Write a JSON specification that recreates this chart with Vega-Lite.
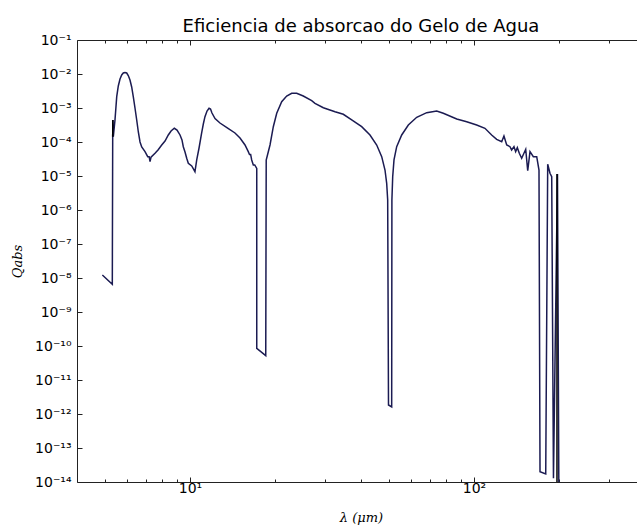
{
  "$schema": "https://vega.github.io/schema/vega-lite/v6.json",
  "autosize": {"type": "none"},
  "padding": {"left": 77, "top": 40, "right": 0, "bottom": 43},
  "width": 560,
  "height": 442,
  "background": "white",
  "config": {
    "view": {"stroke": null},
    "axis": {"grid": false, "domainColor": "#222", "tickColor": "#222", "labelColor": "black", "labelFont": "DejaVu Sans", "labelFontSize": 14, "titleColor": "black", "titleFontWeight": "normal"}
  },
  "title": {"text": "Eficiencia de absorcao do Gelo de Agua", "font": "DejaVu Sans", "fontSize": 18, "fontWeight": "normal", "color": "black", "anchor": "middle", "dx": 4, "dy": 25, "offset": 8, "baseline": "alphabetic"},
  "data": {"values": [
    {"l": 4.913, "q": 1.22e-8, "s": "a"},
    {"l": 5.326, "q": 6.53e-9, "s": "a"},
    {"l": 5.343, "q": 1.43e-4, "s": "a"},
    {"l": 5.35, "q": 4.44e-4, "s": "a"},
    {"l": 5.37, "q": 1.43e-4, "s": "a"},
    {"l": 5.443, "q": 4.44e-4, "s": "a"},
    {"l": 5.520, "q": 2.15e-3, "s": "a"},
    {"l": 5.591, "q": 4.44e-3, "s": "a"},
    {"l": 5.669, "q": 7.13e-3, "s": "a"},
    {"l": 5.747, "q": 9.35e-3, "s": "a"},
    {"l": 5.822, "q": 1.07e-2, "s": "a"},
    {"l": 5.903, "q": 1.11e-2, "s": "a"},
    {"l": 5.985, "q": 1.07e-2, "s": "a"},
    {"l": 6.062, "q": 9.04e-3, "s": "a"},
    {"l": 6.147, "q": 6.66e-3, "s": "a"},
    {"l": 6.232, "q": 4.15e-3, "s": "a"},
    {"l": 6.315, "q": 2.11e-3, "s": "a"},
    {"l": 6.401, "q": 1.0e-3, "s": "a"},
    {"l": 6.491, "q": 4.44e-4, "s": "a"},
    {"l": 6.577, "q": 1.97e-4, "s": "a"},
    {"l": 6.668, "q": 1.0e-4, "s": "a"},
    {"l": 6.760, "q": 7.13e-5, "s": "a"},
    {"l": 6.943, "q": 5.19e-5, "s": "a"},
    {"l": 7.098, "q": 3.70e-5, "s": "a"},
    {"l": 7.18, "q": 3.70e-5, "s": "a"},
    {"l": 7.232, "q": 2.64e-5, "s": "a"},
    {"l": 7.29, "q": 3.60e-5, "s": "a"},
    {"l": 7.530, "q": 4.65e-5, "s": "a"},
    {"l": 7.715, "q": 5.82e-5, "s": "a"},
    {"l": 7.950, "q": 8.16e-5, "s": "a"},
    {"l": 8.166, "q": 1.07e-4, "s": "a"},
    {"l": 8.386, "q": 1.61e-4, "s": "a"},
    {"l": 8.575, "q": 2.11e-4, "s": "a"},
    {"l": 8.805, "q": 2.53e-4, "s": "a"},
    {"l": 9.000, "q": 2.25e-4, "s": "a"},
    {"l": 9.222, "q": 1.61e-4, "s": "a"},
    {"l": 9.370, "q": 1.15e-4, "s": "a"},
    {"l": 9.471, "q": 7.28e-5, "s": "a"},
    {"l": 9.603, "q": 5.08e-5, "s": "a"},
    {"l": 9.736, "q": 3.32e-5, "s": "a"},
    {"l": 9.863, "q": 2.36e-5, "s": "a"},
    {"l": 10.14, "q": 1.97e-5, "s": "a"},
    {"l": 10.41, "q": 1.34e-5, "s": "a"},
    {"l": 10.56, "q": 2.96e-5, "s": "a"},
    {"l": 10.76, "q": 6.66e-5, "s": "a"},
    {"l": 10.99, "q": 1.84e-4, "s": "a"},
    {"l": 11.14, "q": 3.38e-4, "s": "a"},
    {"l": 11.29, "q": 5.55e-4, "s": "a"},
    {"l": 11.48, "q": 8.16e-4, "s": "a"},
    {"l": 11.67, "q": 9.8e-4, "s": "a"},
    {"l": 11.81, "q": 9.35e-4, "s": "a"},
    {"l": 11.95, "q": 7.13e-4, "s": "a"},
    {"l": 12.25, "q": 4.91e-4, "s": "a"},
    {"l": 12.75, "q": 3.62e-4, "s": "a"},
    {"l": 13.61, "q": 2.50e-4, "s": "a"},
    {"l": 14.40, "q": 1.84e-4, "s": "a"},
    {"l": 15.00, "q": 1.31e-4, "s": "a"},
    {"l": 15.62, "q": 8.16e-5, "s": "a"},
    {"l": 16.04, "q": 5.19e-5, "s": "a"},
    {"l": 16.20, "q": 4.3e-5, "s": "a"},
    {"l": 16.35, "q": 4.3e-5, "s": "a"},
    {"l": 16.49, "q": 2.96e-5, "s": "a"},
    {"l": 16.71, "q": 2.11e-5, "s": "a"},
    {"l": 16.90, "q": 2.11e-5, "s": "a"},
    {"l": 17.18, "q": 1.68e-5, "s": "a"},
    {"l": 17.18, "q": 8.55e-11, "s": "a"},
    {"l": 18.48, "q": 5.19e-11, "s": "a"},
    {"l": 18.55, "q": 2.96e-5, "s": "a"},
    {"l": 19.13, "q": 8.16e-5, "s": "a"},
    {"l": 19.65, "q": 2.82e-4, "s": "a"},
    {"l": 20.20, "q": 6.98e-4, "s": "a"},
    {"l": 21.03, "q": 1.53e-3, "s": "a"},
    {"l": 21.90, "q": 2.25e-3, "s": "a"},
    {"l": 22.81, "q": 2.71e-3, "s": "a"},
    {"l": 23.75, "q": 2.71e-3, "s": "a"},
    {"l": 25.05, "q": 2.25e-3, "s": "a"},
    {"l": 26.82, "q": 1.64e-3, "s": "a"},
    {"l": 27.55, "q": 1.37e-3, "s": "a"},
    {"l": 29.48, "q": 1.02e-3, "s": "a"},
    {"l": 32.41, "q": 7.78e-4, "s": "a"},
    {"l": 34.66, "q": 6.53e-4, "s": "a"},
    {"l": 37.10, "q": 4.44e-4, "s": "a"},
    {"l": 40.23, "q": 2.82e-4, "s": "a"},
    {"l": 43.03, "q": 1.61e-4, "s": "a"},
    {"l": 45.44, "q": 8.16e-5, "s": "a"},
    {"l": 47.32, "q": 3.70e-5, "s": "a"},
    {"l": 48.60, "q": 1.50e-5, "s": "a"},
    {"l": 49.27, "q": 6.10e-6, "s": "a"},
    {"l": 49.67, "q": 1.97e-6, "s": "a"},
    {"l": 50.0, "q": 1.84e-12, "s": "a"},
    {"l": 51.31, "q": 1.61e-12, "s": "a"},
    {"l": 51.40, "q": 1.97e-6, "s": "a"},
    {"l": 51.73, "q": 9.53e-6, "s": "a"},
    {"l": 52.28, "q": 2.96e-5, "s": "a"},
    {"l": 53.43, "q": 7.28e-5, "s": "a"},
    {"l": 55.65, "q": 1.61e-4, "s": "a"},
    {"l": 58.72, "q": 3.16e-4, "s": "a"},
    {"l": 62.85, "q": 5.32e-4, "s": "a"},
    {"l": 68.16, "q": 7.28e-4, "s": "a"},
    {"l": 73.90, "q": 8.16e-4, "s": "a"},
    {"l": 77.97, "q": 6.98e-4, "s": "a"},
    {"l": 86.94, "q": 4.74e-4, "s": "a"},
    {"l": 94.26, "q": 3.95e-4, "s": "a"},
    {"l": 102.2, "q": 3.16e-4, "s": "a"},
    {"l": 109.3, "q": 2.53e-4, "s": "a"},
    {"l": 115.4, "q": 1.61e-4, "s": "a"},
    {"l": 120.2, "q": 1.20e-4, "s": "a"},
    {"l": 125.2, "q": 1.02e-4, "s": "a"},
    {"l": 127.5, "q": 1.50e-4, "s": "a"},
    {"l": 130.4, "q": 8.16e-5, "s": "a"},
    {"l": 133.9, "q": 7.28e-5, "s": "a"},
    {"l": 135.7, "q": 5.82e-5, "s": "a"},
    {"l": 138.3, "q": 7.28e-5, "s": "a"},
    {"l": 140.2, "q": 5.19e-5, "s": "a"},
    {"l": 142.1, "q": 6.8e-5, "s": "a"},
    {"l": 144.4, "q": 4.65e-5, "s": "a"},
    {"l": 147.2, "q": 3.32e-5, "s": "a"},
    {"l": 152.1, "q": 6.1e-5, "s": "a"},
    {"l": 154.6, "q": 1.43e-5, "s": "a"},
    {"l": 157.5, "q": 5.19e-5, "s": "a"},
    {"l": 161.8, "q": 3.70e-5, "s": "a"},
    {"l": 166.3, "q": 3.70e-5, "s": "a"},
    {"l": 169.4, "q": 1.50e-5, "s": "a"},
    {"l": 170.8, "q": 2.01e-14, "s": "a"},
    {"l": 178.9, "q": 1.72e-14, "s": "a"},
    {"l": 181.8, "q": 2.21e-5, "s": "a"},
    {"l": 185.2, "q": 1.20e-5, "s": "a"},
    {"l": 187.8, "q": 9.53e-6, "s": "a"},
    {"l": 190.5, "q": 1.29e-14, "s": "a"},
    {"l": 196.8, "q": 1.15e-5, "s": "a"},
    {"l": 199.2, "q": 1e-15, "s": "a"},
    {"l": 5.343, "q": 1.43e-4, "s": "b1"},
    {"l": 5.35, "q": 4.44e-4, "s": "b1"},
    {"l": 196.0, "q": 1.15e-5, "s": "b2"},
    {"l": 196.0, "q": 1e-15, "s": "b2"}
  ]},
  "layer": [
    {
      "mark": {"type": "line", "strokeWidth": 1.5, "clip": true},
      "encoding": {
        "x": {"field": "l", "type": "quantitative", "sort": null,
          "scale": {"type": "log", "domain": [4, 375], "nice": false},
          "axis": {"orient": "bottom", "values": [5,6,7,8,9,10,20,30,40,50,60,70,80,90,100,200,300],
            "labelExpr": "datum.value == 10 ? '10¹' : (datum.value == 100 ? '10²' : '')",
            "tickSize": {"condition": {"test": "datum.value == 10 || datum.value == 100", "value": -5}, "value": -3},
            "labelPadding": 4, "labelFlush": false, "labelOverlap": false,
            "title": "λ (μm)", "titleFont": "DejaVu Serif", "titleFontStyle": "italic", "titleFontSize": 13,
            "titleX": 284, "titleY": 35, "titleBaseline": "middle", "titleAnchor": null}},
        "y": {"field": "q", "type": "quantitative",
          "scale": {"type": "log", "domain": [1e-14, 0.1], "nice": false},
          "axis": {"orient": "left", "values": [1e-14,1e-13,1e-12,1e-11,1e-10,1e-9,1e-8,1e-7,1e-6,1e-5,1e-4,1e-3,1e-2,1e-1],
            "labelExpr": "'10' + (datum.value < 1 ? '⁻' : '') + (abs(round(log(datum.value)/LN10)) >= 10 ? '¹' : '') + ['⁰','¹','²','³','⁴','⁵','⁶','⁷','⁸','⁹'][abs(round(log(datum.value)/LN10)) % 10]",
            "tickSize": -5, "labelPadding": 11, "labelFlush": false, "labelOverlap": false,
            "title": "Qabs", "titleFont": "DejaVu Serif", "titleFontStyle": "italic", "titleFontSize": 13,
            "titleX": -60, "titleY": 221, "titleAngle": -90, "titleBaseline": "middle", "titleAlign": "center"}},
        "color": {"field": "s", "type": "nominal", "legend": null,
          "scale": {"domain": ["b1", "b2", "a"], "range": ["black", "black", "#1b1b52"]}}
      }
    },
    {
      "mark": {"type": "line", "opacity": 0, "clip": true},
      "encoding": {
        "x": {"field": "l", "type": "quantitative", "sort": null,
          "axis": {"orient": "top", "values": [5,6,7,8,9,10,20,30,40,50,60,70,80,90,100,200,300],
            "labels": false, "title": null,
            "tickSize": {"condition": {"test": "datum.value == 10 || datum.value == 100", "value": -5}, "value": -3}}},
        "y": {"field": "q", "type": "quantitative"},
        "detail": {"field": "s", "type": "nominal"}
      }
    }
  ],
  "resolve": {"axis": {"x": "independent"}}
}
